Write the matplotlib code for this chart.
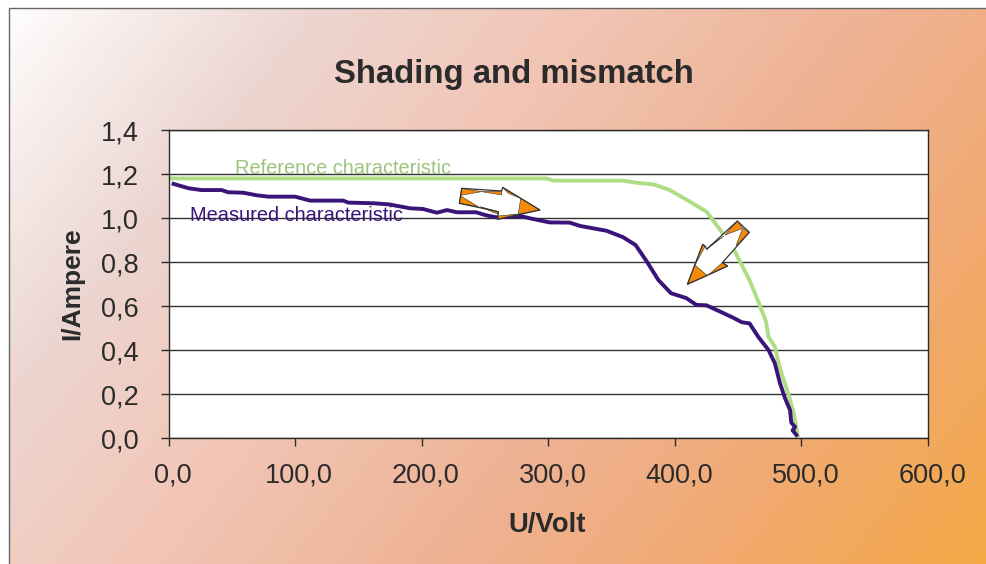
import numpy as np
import matplotlib
matplotlib.use('Agg')
import matplotlib.pyplot as plt
from matplotlib.colors import LinearSegmentedColormap
from matplotlib.patches import Polygon
from matplotlib.transforms import ScaledTranslation

plt.rcParams['font.family'] = ['Liberation Sans', 'DejaVu Sans']

# values
ref_u = [0, 100, 200, 298, 304, 359, 370, 383, 396, 412, 425, 436, 446, 454, 459, 467, 472,
         474, 479, 482, 486, 490, 494, 497]
ref_i = [1.18, 1.18, 1.18, 1.18, 1.17, 1.17, 1.16, 1.153, 1.127, 1.074, 1.029, 0.945, 0.864,
         0.773, 0.718, 0.605, 0.529, 0.46, 0.415, 0.34, 0.264, 0.195, 0.113, 0.013]

meas_u = [4, 16, 26, 42, 47, 59, 70, 79, 100, 112, 130, 138, 142, 162, 174, 191, 201, 212, 220,
          228, 243, 251, 259, 278, 286, 301, 317, 325, 346, 359, 369, 378, 387, 397, 409, 417,
          425, 436, 446, 453, 459, 466, 474, 479, 483, 487, 491, 492, 495, 493, 496]
meas_i = [1.155, 1.135, 1.127, 1.127, 1.117, 1.115, 1.103, 1.097, 1.097, 1.079, 1.079, 1.079,
          1.07, 1.067, 1.062, 1.044, 1.041, 1.024, 1.036, 1.026, 1.026, 1.012, 1.003, 1.009,
          0.998, 0.98, 0.979, 0.964, 0.942, 0.913, 0.877, 0.801, 0.718, 0.658, 0.636, 0.605,
          0.603, 0.574, 0.547, 0.526, 0.521, 0.459, 0.4, 0.34, 0.25, 0.182, 0.127, 0.07, 0.05,
          0.035, 0.014]

x_ticks = [0, 100, 200, 300, 400, 500, 600]
x_labels = ['0,0', '100,0', '200,0', '300,0', '400,0', '500,0', '600,0']
y_ticks = [0, 0.2, 0.4, 0.6, 0.8, 1.0, 1.2, 1.4]
y_labels = ['0,0', '0,2', '0,4', '0,6', '0,8', '1,0', '1,2', '1,4']

W, H = 986, 564
dark = '#2b2b2b'

fig = plt.figure(figsize=(W / 100, H / 100), dpi=100, facecolor='white')

# background panel with the diagonal gradient
bg = fig.add_axes([0, 0, 1, 1], zorder=0)
stops = [(0, '#ffffff'), (0.22, '#ecd6d1'), (0.38, '#f2c8ba'), (0.62, '#eeb294'),
         (0.8, '#f1aa72'), (1, '#f4a845')]
cmap = LinearSegmentedColormap.from_list('panel', stops)
xx, yy = np.meshgrid(np.arange(9, W), np.arange(8, H))
grad = (xx + 0.8 * yy) / (W + 0.8 * H)
bg.imshow(grad, cmap=cmap, vmin=0, vmax=1, extent=(9, W, H, 8), aspect='auto')
bg.plot([8.5, 8.5, W], [H, 7.5, 7.5], color='#666666', lw=1)
bg.set_xlim(0, W)
bg.set_ylim(H, 0)
bg.axis('off')

# the chart itself
ax = fig.add_axes([168.5 / W, (H - 438) / H, 759.5 / W, 308 / H], zorder=1)
ax.set_facecolor('white')
ax.plot(ref_u, ref_i, color='#aedd86', lw=2.8, solid_joinstyle='round')
ax.plot(meas_u, meas_i, color='#3a1478', lw=2.8, solid_joinstyle='round')
ax.set_xlim(0, 600)
ax.set_ylim(0, 1.4)
ax.set_xticks(x_ticks)
ax.set_xticklabels(x_labels)
ax.set_yticks(y_ticks)
ax.set_yticklabels(y_labels)
ax.tick_params(length=6, width=1, color=dark, labelcolor=dark, labelsize=19.5)
ax.tick_params(axis='x', pad=12)
ax.tick_params(axis='y', pad=15.5)
ax.grid(axis='y', color='#333333', lw=1)
ax.set_axisbelow(True)
for s in ax.spines.values():
    s.set_color(dark)
    s.set_linewidth(1)

# x labels sit a little right of their ticks in the original
shift = ScaledTranslation(3 / 72, 0, fig.dpi_scale_trans)
for lab in ax.get_xticklabels():
    lab.set_transform(lab.get_transform() + shift)

fig.text(547 / W, 1 - 525 / H, 'U/Volt', fontsize=19.8, fontweight='bold', color=dark,
         ha='center', va='center')
fig.text(72 / W, 1 - 284 / H, 'I/Ampere', fontsize=19, fontweight='bold', color=dark,
         ha='center', va='center', rotation=90)
fig.text(513.5 / W, 1 - 74 / H, 'Shading and mismatch', fontsize=23.7, fontweight='bold',
         color=dark, ha='center', va='center')

ax.text(52.5, 1.226, 'Reference characteristic', fontsize=14.4, color='#9cc47c', va='center')
ax.text(17, 1.012, 'Measured characteristic', fontsize=14.4, color='#3a1478', va='center')

# the two hollow arrows on top, in pixels of the figure
over = fig.add_axes([0, 0, 1, 1], zorder=2)
over.set_xlim(0, W)
over.set_ylim(H, 0)
over.axis('off')
over.patch.set_alpha(0)


def hollow_arrow(outline, wedges, x0, y0):
    pts = [(x0 + x / 3, y0 + y / 3) for x, y in outline]
    over.add_patch(Polygon(pts, closed=True, fc='white', ec='none'))
    for w in wedges:
        over.add_patch(Polygon([(x0 + x / 3, y0 + y / 3) for x, y in w], closed=True,
                               fc='#f58a07', ec='#333333', lw=0.4))
    over.add_patch(Polygon(pts, closed=True, fc='none', ec='#333333', lw=0.9))


hollow_arrow([(95, 85), (215, 93), (218, 82), (330, 150), (203, 178), (205, 155), (88, 130)],
             [[(95, 85), (155, 95), (92, 106)], [(155, 95), (215, 93), (215, 105)],
              [(218, 82), (272, 115), (235, 100)], [(330, 150), (272, 115), (265, 162)],
              [(265, 162), (203, 178), (205, 168)], [(205, 155), (150, 140), (205, 163)],
              [(88, 130), (92, 108), (145, 140)]], 430, 160)
hollow_arrow([(172, 18), (208, 52), (127, 143), (143, 153), (22, 208), (68, 88), (77, 95), (80, 103)],
             [[(172, 18), (188, 40), (135, 60)], [(208, 52), (188, 40), (168, 92)],
              [(127, 143), (143, 153), (85, 180)], [(22, 208), (45, 150), (82, 182)],
              [(45, 150), (68, 88), (75, 95)], [(80, 103), (132, 63), (95, 88)]], 680, 215)

fig.savefig('out.png', dpi=100, facecolor='white')
